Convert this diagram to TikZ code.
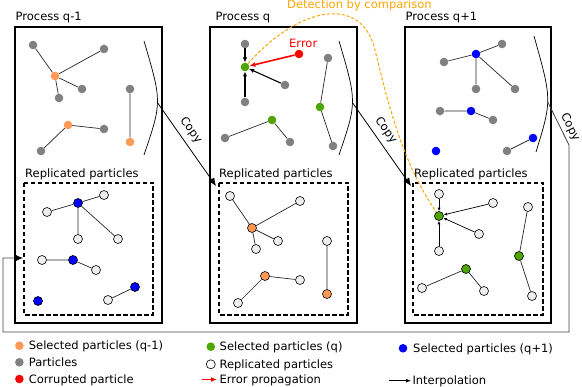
\documentclass[tikz,border=0pt]{standalone}
\usepackage{fontspec}
\setmainfont{DejaVu Sans}
\usetikzlibrary{arrows.meta}
\definecolor{selorange}{HTML}{FF9955}
\definecolor{selgreen}{HTML}{4EA500}
\definecolor{pgrey}{HTML}{808080}
\definecolor{pblue}{HTML}{0000FF}
\definecolor{prep}{HTML}{EEEEEE}
\definecolor{detorange}{HTML}{FFA500}
\begin{document}
\begin{tikzpicture}[x=1pt,y=-1pt,
  every node/.style={font=\fontsize{11.5}{13}\selectfont},
  pt/.style={circle, inner sep=0pt, minimum size=8.6pt},
  gp/.style={pt, fill=pgrey},
  op/.style={pt, fill=selorange},
  gn/.style={pt, fill=selgreen},
  bp/.style={pt, fill=pblue},
  rp/.style={pt, fill=red},
  rep/.style={pt, draw=black, line width=0.6pt, fill=prep, minimum size=9pt},
  repo/.style={rep, fill=selorange},
  repg/.style={rep, fill=selgreen},
  repb/.style={rep, fill=pblue},
  edge/.style={line width=0.7pt, black!85},
  interp/.style={line width=1.1pt, -{Latex[length=5pt,width=4.5pt]}},
  interps/.style={line width=0.7pt, -{Latex[length=3.5pt,width=3pt]}},
  errarrow/.style={line width=1.6pt, red, -{Latex[length=6pt,width=5pt]}},
  procbox/.style={line width=2.6pt},
  repbox/.style={line width=1.2pt, dash pattern=on 4.5pt off 2.5pt},
  bracket/.style={line width=0.7pt},
  copyline/.style={line width=0.8pt, -{Latex[length=8pt,width=7pt]}},
  lbl/.style={inner sep=0pt, anchor=base west},
  copylbl/.style={sloped, inner sep=0pt}
]
\useasboundingbox (0,0) rectangle (582,387);

% ---------------- boxes ----------------
\draw[procbox] (15,27) rectangle (162,323);
\draw[procbox] (210,27) rectangle (357,323);
\draw[procbox] (405,27) rectangle (551,323);
\draw[repbox] (24,183) rectangle (153,315);
\draw[repbox] (219,183) rectangle (348,315);
\draw[repbox] (413,183) rectangle (543,315);

\node[lbl] (t1) at (15.5,20.7) {Process q-1};
\node[lbl] (t2) at (215.5,20.7) {Process q};
\node[lbl] (t3) at (405.5,20.7) {Process q+1};
\node[lbl] (r1) at (25,177.3) {Replicated particles};
\node[lbl] (r2) at (219,177.3) {Replicated particles};
\node[lbl] (r3) at (414,177.3) {Replicated particles};

% ---------------- process q-1 ----------------
\node[gp] (a1) at (33,45) {};
\node[gp] (a2) at (104,49) {};
\node[op] (a3) at (55,76) {};
\node[gp] (a4) at (82,89) {};
\node[gp] (a5) at (59,98) {};
\node[gp] (a6) at (130,89) {};
\node[op] (a7) at (130,142) {};
\node[op] (a8) at (68,125) {};
\node[gp] (a9) at (104,129) {};
\node[gp] (a10) at (41,151) {};
\draw[edge] (a1) -- (a3) (a3) -- (a2) (a3) -- (a4) (a3) -- (a5)
  (a6) -- (a7) (a8) -- (a9) (a8) -- (a10);

% ---------------- process q ----------------
\node[gp] (b1) at (245,44) {};
\node[gn] (b2) at (245,67) {};
\node[gp] (b3) at (245,102) {};
\node[rp] (b4) at (299,54) {};
\node[gp] (b5) at (285,85) {};
\node[gp] (b6) at (328,58) {};
\node[gn] (b7) at (320,107) {};
\node[gp] (b8) at (333,146) {};
\node[gn] (b9) at (272,120) {};
\node[gp] (b10) at (225,138) {};
\node[gp] (b11) at (290,142) {};
\draw[interp] (b1) -- (b2);
\draw[interp] (b3) -- (b2);
\draw[interp] (b5) -- (b2);
\draw[errarrow] (b4) -- (b2);
\node[lbl, text=red] (err) at (289,47.3) {Error};
\draw[edge] (b6) -- (b7) -- (b8) (b9) -- (b10) (b9) -- (b11);

% ---------------- process q+1 ----------------
\node[bp] (c1) at (476,54) {};
\node[gp] (c2) at (502,44) {};
\node[gp] (c3) at (444,62) {};
\node[gp] (c4) at (476,89) {};
\node[gp] (c5) at (515,89) {};
\node[bp] (c6) at (471,111) {};
\node[gp] (c7) at (440,111) {};
\node[gp] (c8) at (493,120) {};
\node[bp] (c9) at (533,138) {};
\node[gp] (c10) at (507,151) {};
\node[bp] (c11) at (436,151) {};
\draw[edge] (c1) -- (c2) (c1) -- (c3) (c1) -- (c4) (c1) -- (c5)
  (c6) -- (c7) (c6) -- (c8) (c9) -- (c10);

% ---------------- replicated q-1 ----------------
\node[repb] (d1) at (78,203) {};
\node[rep] (d2) at (104,195) {};
\node[rep] (d3) at (47,212) {};
\node[rep] (d4) at (78,239) {};
\node[rep] (d5) at (118,239) {};
\node[repb] (d6) at (73,260) {};
\node[rep] (d7) at (42,260) {};
\node[rep] (d8) at (96,270) {};
\node[repb] (d9) at (135,287) {};
\node[rep] (d10) at (108,300) {};
\node[repb] (d11) at (38,301) {};
\draw[edge] (d1) -- (d2) (d1) -- (d3) (d1) -- (d4) (d1) -- (d5)
  (d6) -- (d7) (d6) -- (d8) (d9) -- (d10);

% ---------------- replicated q ----------------
\node[repo] (e1) at (252,228) {};
\node[rep] (e2) at (230,196) {};
\node[rep] (e3) at (300,201) {};
\node[rep] (e4) at (278,241) {};
\node[rep] (e5) at (256,249) {};
\node[rep] (e6) at (327,241) {};
\node[repo] (e7) at (327,294) {};
\node[repo] (e8) at (265,276) {};
\node[rep] (e9) at (300,280) {};
\node[rep] (e10) at (238,303) {};
\draw[edge] (e1) -- (e2) (e1) -- (e3) (e1) -- (e4) (e1) -- (e5)
  (e6) -- (e7) (e8) -- (e9) (e8) -- (e10);

% ---------------- replicated q+1 ----------------
\node[repg] (f1) at (439,216) {};
\node[rep] (f2) at (439,194) {};
\node[rep] (f3) at (493,203) {};
\node[rep] (f4) at (479,234) {};
\node[rep] (f5) at (439,251) {};
\node[rep] (f6) at (528,207) {};
\node[repg] (f7) at (519,256) {};
\node[rep] (f8) at (532,296) {};
\node[repg] (f9) at (466,269) {};
\node[rep] (f10) at (422,288) {};
\node[rep] (f11) at (484,291) {};
\draw[interps] (f2) -- (f1);
\draw[interps] (f3) -- (f1);
\draw[interps] (f4) -- (f1);
\draw[interps] (f5) -- (f1);
\draw[edge] (f6) -- (f7) -- (f8) (f9) -- (f10) (f9) -- (f11);

% ---------------- brackets and copy lines ----------------
\draw[bracket] (144,41) .. controls (162,102) .. (144,155) coordinate[pos=0.52] (cs1);
\draw[bracket] (339,41) .. controls (357,102) .. (339,155) coordinate[pos=0.52] (cs2);
\draw[bracket] (534,36) .. controls (552,100) .. (536,152) coordinate[pos=0.54] (cs3);

\coordinate (ct1) at (216,186);
\coordinate (ct2) at (411,186);
\coordinate (ct0) at (23,258);
\coordinate (k1) at (569,145);
\coordinate (k2) at (569,332);
\coordinate (k3) at (3,332);
\coordinate (k4) at (3,258);

\draw[copyline] (cs1) -- node[copylbl, pos=0.41, above=5.6pt] {Copy} (ct1);
\draw[copyline] (cs2) -- node[copylbl, pos=0.41, above=5.6pt] {Copy} (ct2);
\draw[copyline, black!75, -{Latex[length=8pt,width=7pt,color=black]}] (cs3) -- node[copylbl, pos=0.68, above=3pt, text=black] {Copy} (k1) -- (k2) -- (k3) -- (k4) -- (ct0);

% ---------------- detection curve ----------------
\draw[detorange, line width=1pt, dash pattern=on 3pt off 2pt]
  (b2) .. controls (300,5) and (362,-5) .. (375,50)
       .. controls (385,90) and (400,160) .. (f1);
\node[lbl, text=detorange] (det) at (287,8.5) {Detection by comparison};

% ---------------- legend ----------------
\node[op] (l1) at (19.4,345.7) {};
\node[lbl] (l1t) at (28.7,349.9) {Selected particles (q-1)};
\node[gp] (l2) at (19.4,362.3) {};
\node[lbl] (l2t) at (28.7,366.5) {Particles};
\node[rp] (l3) at (19.4,379) {};
\node[lbl] (l3t) at (28.7,383.2) {Corrupted particle};

\node[gn] (l4) at (210.8,346.7) {};
\node[lbl] (l4t) at (219.5,350.9) {Selected particles (q)};
\node[rep, fill=white] (l5) at (210.8,364.3) {};
\node[lbl] (l5t) at (219.4,368.5) {Replicated particles};
\coordinate (l6a) at (201.5,379.5);
\coordinate (l6b) at (217,379.5);
\draw[errarrow] (l6a) -- (l6b);
\node[lbl] (l6t) at (219.4,383.7) {Error propagation};

\node[bp] (l7) at (403,348.3) {};
\node[lbl] (l7t) at (413,352.5) {Selected particles (q+1)};
\coordinate (l8a) at (389,380.7);
\coordinate (l8b) at (411,380.7);
\draw[interps, line width=0.8pt, -{Latex[length=5pt,width=4pt]}] (l8a) -- (l8b);
\node[lbl] (l8t) at (412.3,384.9) {Interpolation};
\end{tikzpicture}
\end{document}
